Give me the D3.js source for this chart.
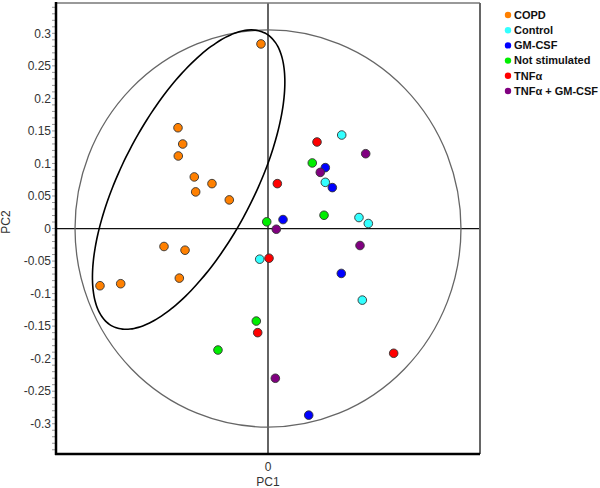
<!DOCTYPE html>
<html>
<head>
<meta charset="utf-8">
<script src="https://cdn.jsdelivr.net/npm/d3@7"></script>
<style>
  body { margin: 0; background: #fff; }
  text { font-family: "Liberation Sans", Arial, sans-serif; }
</style>
</head>
<body>
<svg class="chart" width="600" height="488"></svg>
<script>
(function() {
  'use strict';

// groups shown in the legend
var groups = ['COPD', 'Control', 'GM-CSF', 'Not stimulated', 'TNF\u03b1', 'TNF\u03b1 + GM-CSF'];
var colors = ['#ff8000', '#33ffff', '#0000ff', '#00ee00', '#ff0000', '#800080'];

// scores [PC1, PC2] per group
var copd = [[-0.0116, 0.2837], [-0.1486, 0.1549], [-0.1408, 0.1299], [-0.1481, 0.1115],
            [-0.1217, 0.0793], [-0.0925, 0.0690], [-0.1194, 0.0563], [-0.0639, 0.0440],
            [-0.1717, -0.0276], [-0.1370, -0.0333], [-0.1464, -0.0762], [-0.2774, -0.0879],
            [-0.2432, -0.0848]];
var control = [[0.1217, 0.1437], [0.0946, 0.0710], [0.1502, 0.0169], [0.1656, 0.0077],
               [-0.0137, -0.0471], [0.1557, -0.1100]];
var gmcsf = [[0.0946, 0.0936], [0.1062, 0.0629], [0.0248, 0.0138], [0.1210, -0.0690],
             [0.0672, -0.2868]];
var notStim = [[0.0731, 0.1008], [-0.0021, 0.0103], [0.0925, 0.0204], [-0.0193, -0.1422],
               [-0.0826, -0.1867]];
var tnfa = [[0.0809, 0.1330], [0.0154, 0.0690], [0.0017, -0.0456], [-0.0170, -0.1600],
            [0.2075, -0.1917]];
var tnfaGm = [[0.1613, 0.1150], [0.0863, 0.0863], [0.0137, -0.0011], [0.1519, -0.0261],
              [0.0121, -0.2301]];
var series = [copd, control, gmcsf, notStim, tnfa, tnfaGm];

// y tick labels
var yTicks = [0.3, 0.25, 0.2, 0.15, 0.1, 0.05, 0, -0.05, -0.1, -0.15, -0.2, -0.25, -0.3];

// Hotelling T2 ellipse radii (PC1, PC2)
var t2 = [0.3186, 0.3052];
// COPD ellipse: centre and two conjugate semi-axes, in score units
var ellC = [-0.1310, 0.0752];
var ellU = [0.1260, 0.2252];
var ellV = [0.0967, -0.0470];

var left = 56, right = 480, top = 3, bottom = 454;

var x = d3.scaleLinear().domain([-0.35, 0.35]).range([left, right]);
var y = d3.scaleLinear().domain([-0.3465, 0.3466]).range([bottom, top]);

var chart = d3.select('.chart');

// zero lines
chart.append('line')
    .attr('x1', left).attr('x2', right)
    .attr('y1', y(0)).attr('y2', y(0))
    .attr('stroke', '#111').attr('stroke-width', 1.3);
chart.append('line')
    .attr('x1', x(0)).attr('x2', x(0))
    .attr('y1', top).attr('y2', bottom)
    .attr('stroke', '#111').attr('stroke-width', 1.3);

// T2 circle
chart.append('ellipse')
    .attr('cx', x(0)).attr('cy', y(0))
    .attr('rx', x(t2[0]) - x(0))
    .attr('ry', y(0) - y(t2[1]))
    .attr('fill', 'none')
    .attr('stroke', '#666')
    .attr('stroke-width', 1.3);

// COPD ellipse
var ellPts = d3.range(0, 360, 3).map(function(deg) {
  var t = deg * Math.PI / 180;
  return [ellC[0] + ellU[0] * Math.cos(t) + ellV[0] * Math.sin(t),
          ellC[1] + ellU[1] * Math.cos(t) + ellV[1] * Math.sin(t)];
});
chart.append('path')
    .attr('d', d3.line()
      .x(function(d) { return x(d[0]); })
      .y(function(d) { return y(d[1]); })
      .curve(d3.curveCardinalClosed)(ellPts))
    .attr('fill', 'none')
    .attr('stroke', '#000')
    .attr('stroke-width', 1.6);

// frame: top / right gray, left / bottom black
chart.append('line')
    .attr('x1', left).attr('x2', right).attr('y1', top).attr('y2', top)
    .attr('stroke', '#777').attr('stroke-width', 1.5);
chart.append('line')
    .attr('x1', right).attr('x2', right).attr('y1', top).attr('y2', bottom)
    .attr('stroke', '#666').attr('stroke-width', 2);

// y axis with minor ticks every 0.01
var minor = d3.range(-34, 35).map(function(v) { return v / 100; });
chart.append('g')
    .selectAll('line')
    .data(minor)
  .enter().append('line')
    .attr('x1', left - 4).attr('x2', left)
    .attr('y1', function(d) { return y(d); })
    .attr('y2', function(d) { return y(d); })
    .attr('stroke', '#999')
    .attr('stroke-width', 1);

chart.append('g')
    .selectAll('text')
    .data(yTicks)
  .enter().append('text')
    .attr('x', left - 5)
    .attr('y', function(d) { return y(d); })
    .attr('dy', '0.35em')
    .attr('text-anchor', 'end')
    .style('font-size', '12px')
    .style('fill', '#333')
    .text(function(d) { return String(+d.toFixed(2)); });

chart.append('line')
    .attr('x1', left).attr('x2', left).attr('y1', top - 1).attr('y2', bottom + 1)
    .attr('stroke', '#000').attr('stroke-width', 2.5);
chart.append('line')
    .attr('x1', left - 1).attr('x2', right).attr('y1', bottom).attr('y2', bottom)
    .attr('stroke', '#000').attr('stroke-width', 2.5);

// x axis label
chart.append('text')
    .attr('x', x(0)).attr('y', 471)
    .attr('text-anchor', 'middle')
    .style('font-size', '12px').style('fill', '#333')
    .text('0');
chart.append('text')
    .attr('x', x(0)).attr('y', 486)
    .attr('text-anchor', 'middle')
    .style('font-size', '12px').style('fill', '#333')
    .text('PC1');

// y axis label
chart.append('text')
    .attr('transform', 'translate(10,' + 222 + ') rotate(-90)')
    .attr('text-anchor', 'middle')
    .style('font-size', '12px').style('fill', '#333')
    .text('PC2');

// points
series.forEach(function(pts, i) {
  chart.append('g')
      .selectAll('circle')
      .data(pts)
    .enter().append('circle')
      .attr('cx', function(d) { return x(d[0]); })
      .attr('cy', function(d) { return y(d[1]); })
      .attr('r', 4.3)
      .attr('fill', colors[i])
      .attr('stroke', '#333')
      .attr('stroke-width', 0.9);
});

// legend
var leg = chart.append('g')
    .selectAll('g')
    .data(groups)
  .enter().append('g')
    .attr('transform', function(d, i) { return 'translate(508,' + (15 + i * 15.2) + ')'; });

leg.append('circle')
    .attr('r', 3.2)
    .attr('fill', function(d, i) { return colors[i]; });

leg.append('text')
    .attr('x', 6)
    .attr('dy', '0.35em')
    .style('font-size', '11px')
    .style('font-weight', 'bold')
    .style('fill', '#111')
    .text(function(d) { return d; });

}());
</script>
</body>
</html>
